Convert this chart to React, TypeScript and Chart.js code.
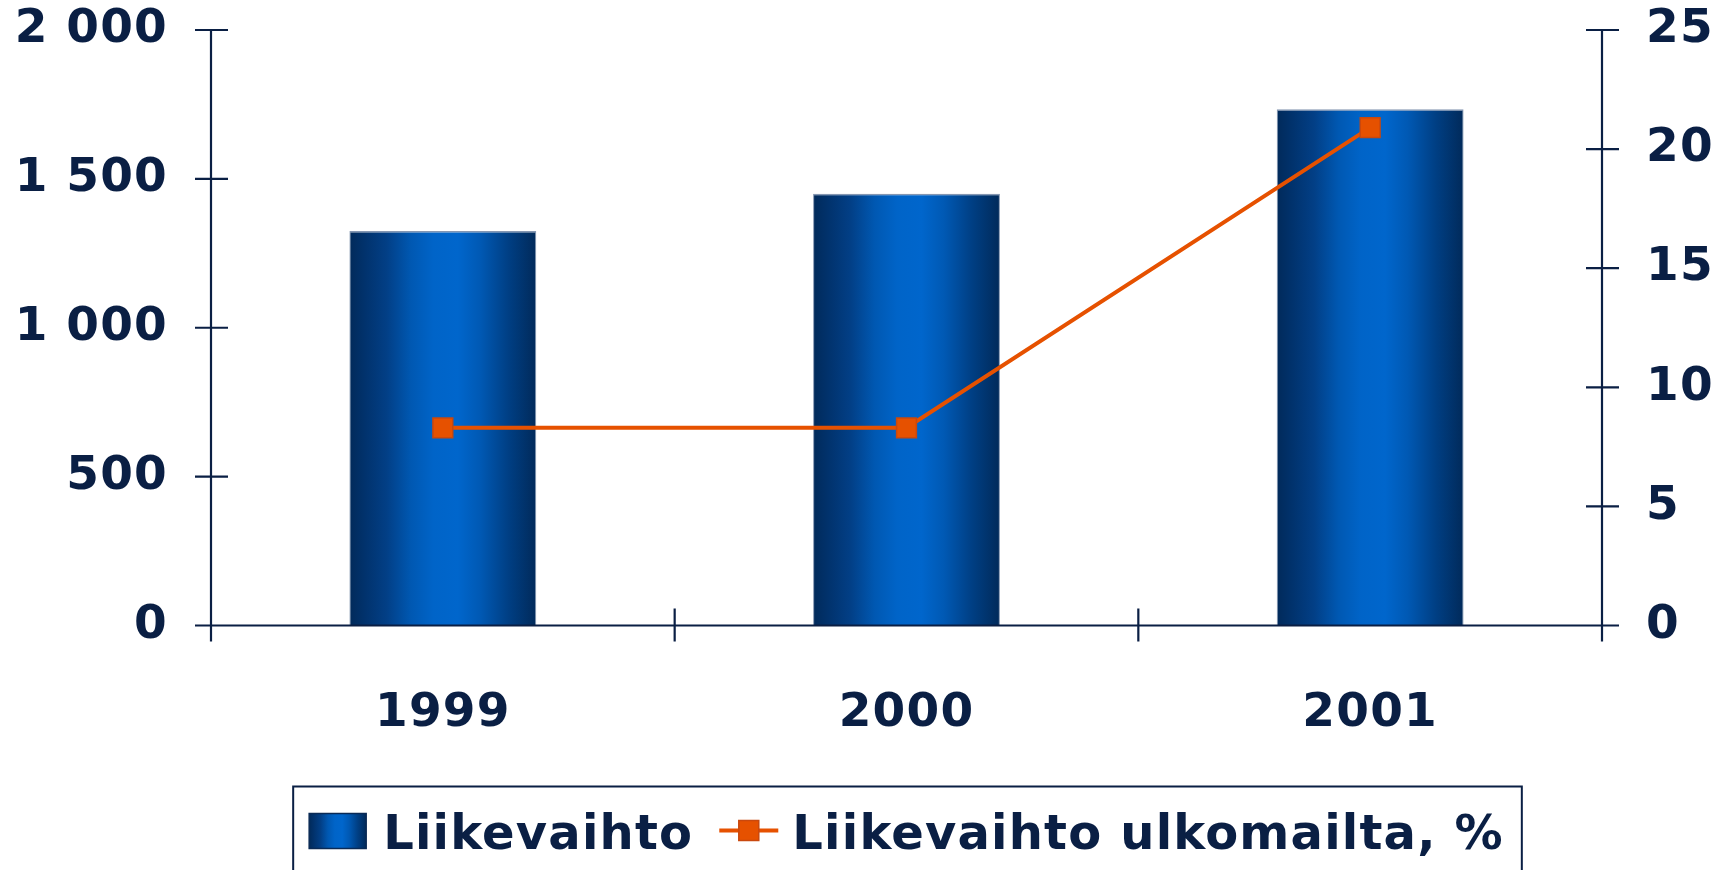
import React, { useEffect, useRef } from 'react';
import { Chart, registerables } from 'chart.js';

Chart.register(...registerables);

const categories = ['1999', '2000', '2001'];
const revenue = [1325, 1450, 1734];
const foreignShare = [8.3, 8.3, 20.9];
const leftTickLabels = ['0', '500', '1 000', '1 500', '2 000'];
const rightTickLabels = ['0', '5', '10', '15', '20', '25'];
const seriesLabels = ['Liikevaihto', 'Liikevaihto ulkomailta, %'];

const NAVY = '#0a1f44';
const ORANGE = '#e65100';
const ORANGE_EDGE = '#c9480e';
const FONT = "'DejaVu Sans', 'Verdana', sans-serif";
const BAR_PCT = 0.403;
const W = 1717;
const H = 870;

function barGradient(ctx: CanvasRenderingContext2D, left: number, right: number) {
  const g = ctx.createLinearGradient(left, 0, right, 0);
  g.addColorStop(0, '#012a5a');
  g.addColorStop(0.08, '#01326c');
  g.addColorStop(0.2, '#023f86');
  g.addColorStop(0.33, '#0058b2');
  g.addColorStop(0.45, '#0064c8');
  g.addColorStop(0.58, '#0066cc');
  g.addColorStop(0.7, '#0059b4');
  g.addColorStop(0.85, '#003f84');
  g.addColorStop(1, '#012a5a');
  return g;
}

const spacingPlugin = {
  id: 'tickSpacing',
  beforeDraw(chart: any) {
    try { chart.ctx.letterSpacing = '1.2px'; } catch (e) { /* ignore */ }
  },
  afterDatasetsDraw(chart: any) {
    try { chart.ctx.letterSpacing = '0px'; } catch (e) { /* ignore */ }
  },
};

const axesPlugin = {
  id: 'crossAxes',
  afterDatasetsDraw(chart: any) {
    const { ctx } = chart;
    const x = chart.scales.x;
    const y = chart.scales.y;
    const y1 = chart.scales.y1;
    const zeroY = y.getPixelForValue(0);
    ctx.save();
    ctx.strokeStyle = NAVY;
    ctx.lineWidth = 2.2;
    ctx.beginPath();
    ctx.moveTo(x.left - 16, zeroY);
    ctx.lineTo(x.right + 17, zeroY);
    ctx.moveTo(y.right, y.top);
    ctx.lineTo(y.right, zeroY + 16);
    ctx.moveTo(y1.left, y1.top);
    ctx.lineTo(y1.left, zeroY + 16);
    y.ticks.forEach((_t: any, i: number) => {
      const py = y.getPixelForTick(i);
      ctx.moveTo(y.right - 16, py);
      ctx.lineTo(y.right + 17, py);
    });
    y1.ticks.forEach((_t: any, i: number) => {
      const py = y1.getPixelForTick(i);
      ctx.moveTo(y1.left - 16, py);
      ctx.lineTo(y1.left + 17, py);
    });
    for (let i = 0; i <= categories.length; i++) {
      const px = x.getPixelForValue(i - 0.5);
      ctx.moveTo(px, zeroY - 17);
      ctx.lineTo(px, zeroY + 16);
    }
    ctx.stroke();
    ctx.restore();
  },
};

const legendPlugin = {
  id: 'boxLegend',
  afterDraw(chart: any) {
    const { ctx, chartArea } = chart;
    ctx.save();
    ctx.font = `bold 48px ${FONT}`;
    try { (ctx as any).letterSpacing = '1.2px'; } catch (e) { /* ignore */ }
    const w1 = ctx.measureText(seriesLabels[0]).width;
    const w2 = ctx.measureText(seriesLabels[1]).width;
    const swatchW = 57;
    const gap1 = 17;
    const itemGap = 26;
    const lineW = 59;
    const gap2 = 14;
    const total = swatchW + gap1 + w1 + itemGap + lineW + gap2 + w2;
    const cx = (chartArea.left + chartArea.right) / 2;
    let xp = cx - total / 2;
    const top = chartArea.bottom + 161;
    const baseline = top + 62;

    ctx.strokeStyle = NAVY;
    ctx.lineWidth = 2;
    ctx.strokeRect(xp - 16, top, total + 34, 200);

    ctx.fillStyle = barGradient(ctx, xp, xp + swatchW);
    ctx.fillRect(xp, top + 27, swatchW, 35);
    ctx.strokeStyle = '#0a2a55';
    ctx.lineWidth = 1.5;
    ctx.strokeRect(xp, top + 27, swatchW, 35);
    xp += swatchW + gap1;

    ctx.fillStyle = NAVY;
    ctx.textBaseline = 'alphabetic';
    ctx.textAlign = 'left';
    ctx.fillText(seriesLabels[0], xp, baseline);
    xp += w1 + itemGap;

    const ly = top + 44;
    ctx.strokeStyle = ORANGE;
    ctx.lineWidth = 4;
    ctx.beginPath();
    ctx.moveTo(xp, ly);
    ctx.lineTo(xp + lineW, ly);
    ctx.stroke();
    ctx.fillStyle = ORANGE;
    ctx.fillRect(xp + lineW / 2 - 10, ly - 10, 20, 20);
    ctx.strokeStyle = ORANGE_EDGE;
    ctx.lineWidth = 1.5;
    ctx.strokeRect(xp + lineW / 2 - 10, ly - 10, 20, 20);
    xp += lineW + gap2;

    ctx.fillStyle = NAVY;
    ctx.fillText(seriesLabels[1], xp, baseline);
    ctx.restore();
  },
};

export default function App() {
  const canvasRef = useRef<HTMLCanvasElement | null>(null);

  useEffect(() => {
    const canvas = canvasRef.current;
    if (!canvas) return;
    const tickFont = { family: FONT, size: 47, weight: 'bold' as const };
    const fixPad = (s: any) => {
      s.paddingTop = 0;
      s.paddingBottom = 0;
      s.paddingLeft = 0;
      s.paddingRight = 0;
    };
    const chart = new Chart(canvas, {
      type: 'bar',
      data: {
        labels: categories,
        datasets: [
          {
            type: 'bar',
            label: seriesLabels[0],
            data: revenue,
            yAxisID: 'y',
            order: 2,
            barPercentage: BAR_PCT,
            categoryPercentage: 1,
            borderColor: 'rgba(120,140,170,0.9)',
            borderWidth: { top: 1.5, left: 1, right: 1, bottom: 0 },
            backgroundColor: (c: any) => {
              const ch = c.chart;
              const xs = ch.scales && ch.scales.x;
              if (!xs || c.dataIndex == null || !xs.width) return '#0060c0';
              const center = xs.getPixelForValue(c.dataIndex);
              const half = ((xs.width / categories.length) * BAR_PCT) / 2;
              return barGradient(ch.ctx, center - half, center + half);
            },
          } as any,
          {
            type: 'line',
            label: seriesLabels[1],
            data: foreignShare,
            yAxisID: 'y1',
            order: 1,
            borderColor: ORANGE,
            borderWidth: 4,
            tension: 0,
            pointStyle: 'rect',
            pointRadius: 14,
            pointBackgroundColor: ORANGE,
            pointBorderColor: ORANGE_EDGE,
            pointBorderWidth: 1.5,
          } as any,
        ],
      },
      options: {
        responsive: false,
        animation: false,
        devicePixelRatio: 1,
        layout: { padding: { top: 30, bottom: H - 625.5 - 130, left: 0, right: 0 } },
        plugins: { legend: { display: false }, tooltip: { enabled: false } },
        scales: {
          x: {
            offset: true,
            grid: { display: false, drawTicks: false },
            border: { display: false },
            ticks: { font: tickFont, color: NAVY, padding: 60, maxRotation: 0 },
            afterFit: (s: any) => { s.height = 130; fixPad(s); },
          },
          y: {
            position: 'left',
            min: 0,
            max: 2000,
            grid: { display: false, drawTicks: false },
            border: { display: false },
            ticks: {
              stepSize: 500,
              padding: 43,
              font: tickFont,
              color: NAVY,
              callback: (v: any) => leftTickLabels[Math.round(Number(v) / 500)],
            },
            afterFit: (s: any) => { s.width = 211; fixPad(s); },
          },
          y1: {
            position: 'right',
            min: 0,
            max: 25,
            grid: { display: false, drawTicks: false },
            border: { display: false },
            ticks: {
              stepSize: 5,
              padding: 44,
              font: tickFont,
              color: NAVY,
              callback: (v: any) => rightTickLabels[Math.round(Number(v) / 5)],
            },
            afterFit: (s: any) => { s.width = 115; fixPad(s); },
          },
        },
      } as any,
      plugins: [spacingPlugin, axesPlugin, legendPlugin],
    });
    return () => chart.destroy();
  }, []);

  return (
    <div style={{ position: 'fixed', left: 0, top: 0, width: W, height: H, background: '#ffffff' }}>
      <canvas ref={canvasRef} width={W} height={H} style={{ display: 'block' }} />
    </div>
  );
}
